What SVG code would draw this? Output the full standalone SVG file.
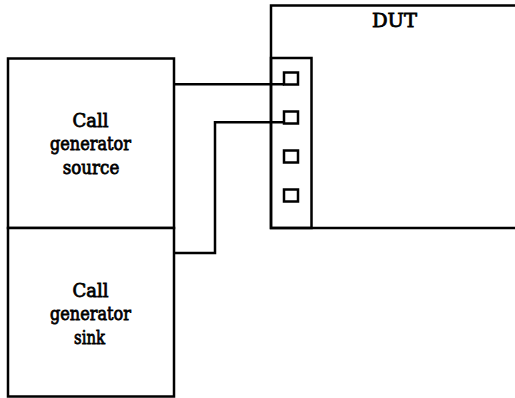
<svg xmlns="http://www.w3.org/2000/svg" width="515" height="398" viewBox="0 0 515 398">
<style>
.b{fill:none;stroke:#000;stroke-width:2.5}
.w{fill:#fff;stroke:#000;stroke-width:2.5}
.t{font-family:"DejaVu Serif",serif;font-size:18.5px;text-anchor:middle;fill:#000;stroke:#000;stroke-width:0.8}
</style>
<rect width="515" height="398" fill="#fff"/>
<g id="dut">
<rect class="w" x="271" y="5.5" width="260" height="222.5"/>
<rect class="b" x="271" y="58" width="40.5" height="170"/>
<rect class="b" x="284" y="72.5" width="14" height="12"/>
<rect class="b" x="284" y="111.5" width="14" height="12"/>
<rect class="b" x="284" y="150.5" width="14" height="12"/>
<rect class="b" x="284" y="189.5" width="14" height="12"/>
<text class="t" x="394.5" y="27" textLength="45" lengthAdjust="spacingAndGlyphs">DUT</text>
</g>
<g id="source">
<rect class="w" x="8" y="58.5" width="166" height="169.5"/>
<text class="t" x="90.5" y="127" textLength="36" lengthAdjust="spacingAndGlyphs">Call</text>
<text class="t" x="90.5" y="150" textLength="81" lengthAdjust="spacingAndGlyphs">generator</text>
<text class="t" x="91" y="174" textLength="56.5" lengthAdjust="spacingAndGlyphs">source</text>
</g>
<g id="sink">
<rect class="w" x="8" y="228" width="166" height="168.5"/>
<text class="t" x="90.5" y="297" textLength="36" lengthAdjust="spacingAndGlyphs">Call</text>
<text class="t" x="90.5" y="320" textLength="81" lengthAdjust="spacingAndGlyphs">generator</text>
<text class="t" x="89.5" y="344" textLength="31" lengthAdjust="spacingAndGlyphs">sink</text>
</g>
<g id="connectors">
<polyline class="b" points="174,84.3 284,84.3"/>
<polyline class="b" points="174,253 215,253 215,122.3 284,122.3"/>
</g>
</svg>
